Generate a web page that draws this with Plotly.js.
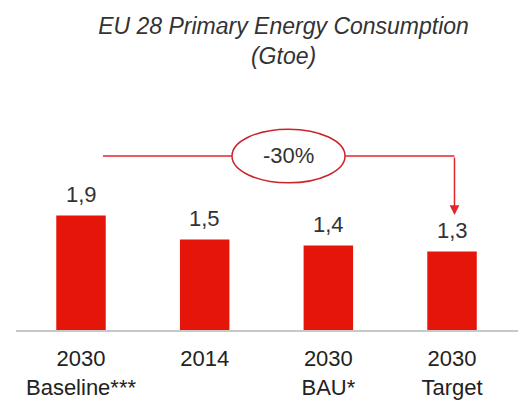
<!DOCTYPE html>
<html>
<head>
<meta charset="utf-8">
<script src="https://cdn.plot.ly/plotly-3.0.1.min.js"></script>
<style>html,body{margin:0;padding:0;background:#fff;}#chart{width:530px;height:414px;}</style>
</head>
<body>
<div id="chart"></div>
<script>
const categories = ['2030<br>Baseline***', '2014', '2030<br>BAU*', '2030<br>Target'];
const values = [1.9, 1.5, 1.4, 1.3];
const changeLabel = '-30%';
const titleText = 'EU 28 Primary Energy Consumption<br>(Gtoe)';

const xIdx = categories.map((c, i) => i);
const barColor = '#e5150a';
const font = 'Liberation Sans, Arial, sans-serif';

const valueAnnotations = values.map((v, i) => ({
  x: i, y: v, xref: 'x', yref: 'y',
  text: String(v.toFixed(1)).replace('.', ','),
  showarrow: false, yanchor: 'middle', yshift: 21,
  font: {family: font, size: 22, color: '#333333'}
}));

const first = 0, last = values.length - 1;
const bracketY = 2.886;
const arrowX = last + 0.02;

const layout = {
  width: 530, height: 414,
  margin: {l: 16, r: 12, t: 100, b: 84},
  paper_bgcolor: '#ffffff', plot_bgcolor: '#ffffff',
  showlegend: false,
  title: {
    text: titleText, x: 0.535, xref: 'container', xanchor: 'center',
    y: 0.918, yref: 'container', yanchor: 'top',
    font: {family: font, size: 23, color: '#333333', style: 'italic'}
  },
  xaxis: {
    range: [-0.5256, 3.5335], tickvals: xIdx, ticktext: categories,
    showline: true, linecolor: '#c8c8c8', linewidth: 2,
    showgrid: false, zeroline: false, ticks: '', ticklabelstandoff: 8,
    tickfont: {family: font, size: 22, color: '#222222'},
    fixedrange: true
  },
  yaxis: {
    range: [0, 3.814], visible: false, showgrid: false, zeroline: false, fixedrange: true
  },
  shapes: [
    {type: 'line', xref: 'x', yref: 'y', x0: first + 0.178, x1: arrowX, y0: bracketY, y1: bracketY,
     line: {color: '#e3262b', width: 1.5}},
    {type: 'circle', xref: 'x', yref: 'y', x0: 1.221, x1: 2.135, y0: 2.44, y1: 3.33,
     fillcolor: '#ffffff', line: {color: '#c9242b', width: 1.5}}
  ],
  annotations: valueAnnotations.concat([
    {x: 1.678, y: bracketY, xref: 'x', yref: 'y', text: changeLabel, showarrow: false,
     font: {family: font, size: 22, color: '#333333'}},
    {x: arrowX, y: 1.907, xref: 'x', yref: 'y', ax: arrowX, ay: bracketY, axref: 'x', ayref: 'y',
     text: '', showarrow: true, arrowhead: 2, arrowsize: 1.3, arrowwidth: 1.5, arrowcolor: '#e3262b'}
  ])
};

Plotly.newPlot('chart', [{
  type: 'bar', x: xIdx, y: values, width: 0.4,
  marker: {color: barColor}, hoverinfo: 'skip'
}], layout, {displayModeBar: false, staticPlot: true});
</script>
</body>
</html>
